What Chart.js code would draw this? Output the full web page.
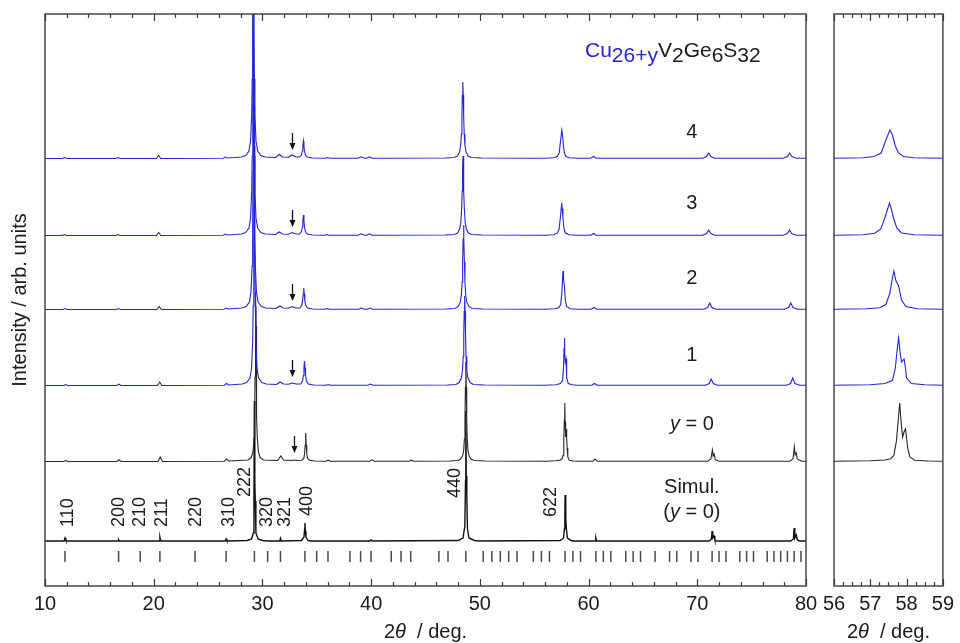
<!DOCTYPE html>
<html lang="en">
<head>
<meta charset="UTF-8">
<title>XRD patterns of Cu26+yV2Ge6S32</title>
<script src="https://cdn.jsdelivr.net/npm/chart.js"></script>
<style>
  body { margin: 0; background: #fff; }
  .wrap { position: relative; width: 960px; height: 643px; }
  .wrap canvas { position: absolute; left: 0; top: 0; }
</style>
</head>
<body>
<div class="wrap">
  <canvas id="mainChart" width="960" height="643"></canvas>
  <canvas id="zoomChart" width="960" height="643"></canvas>
</div>
<script>
// ---- patterns: [2theta (deg), intensity above the trace's own baseline] ----
const trace4 = [
  [10,0.5],[11.6,0.5],[11.8,1.5],[12.0,0.5],[16.5,0.5],[16.7,1.5],[16.9,0.5],[20.25,0.5],[20.45,3.5],[20.65,0.5],[26.4,0.8],[26.6,2],[26.8,1],
  [28.06,2],[28.46,3.5],[28.76,8],[28.91,18],[29.01,44],[29.06,80],[29.10,139],[29.13,204],[29.16,240],[29.19,204],[29.22,139],[29.26,80],[29.31,44],[29.41,18],[29.56,8],[29.86,3.5],[30.26,2],
  [31.2,1.5],[31.55,4.5],[31.85,2],[32.4,1.8],[32.72,4],[33.1,2],
  [33.42,2],[33.59,4],[33.67,8],[33.72,13],[33.77,18],[33.82,13],[33.87,8],[33.95,4],[34.12,2],[34.6,1],
  [35.8,0.8],[36.0,1.5],[36.2,0.8],[38.8,0.8],[39.07,2.2],[39.4,0.8],[39.6,0.8],[39.84,2.2],[40.1,0.8],
  [46.8,1],[47.63,1.5],[47.93,3],[48.13,7],[48.23,13.5],[48.30,25],[48.35,43],[48.39,64],[48.43,77],[48.47,64],[48.51,43],[48.56,25],[48.63,13.5],[48.73,7],[48.93,3],[49.23,1.5],[50.2,1],
  [56.0,0.8],[56.8,1.2],[57.1,2.5],[57.3,6],[57.43,19],[57.54,29],[57.61,24],[57.69,13],[57.78,6],[57.91,2.5],[58.2,1.2],[59.0,0.8],
  [60.2,0.8],[60.45,2.5],[60.7,0.8],
  [70.5,0.8],[70.85,2.5],[71.06,6],[71.25,2.5],[71.6,0.8],
  [77.9,0.8],[78.3,2.5],[78.5,6],[78.7,2.5],[79.1,0.8],[80,0.8]
];
const trace3 = [
  [10,0.5],[11.6,0.5],[11.8,1.5],[12.0,0.5],[16.5,0.5],[16.7,1.5],[16.9,0.5],[20.25,0.5],[20.45,3.5],[20.65,0.5],[26.4,0.8],[26.6,2],[26.8,1],
  [28.06,2],[28.46,3.5],[28.76,8],[28.91,18],[29.01,44],[29.06,80],[29.10,139],[29.13,204],[29.16,240],[29.19,204],[29.22,139],[29.26,80],[29.31,44],[29.41,18],[29.56,8],[29.86,3.5],[30.26,2],
  [31.2,1.5],[31.55,4],[31.85,2],[32.4,1.8],[32.72,3.5],[33.1,2],
  [33.42,2],[33.59,4.5],[33.67,9],[33.72,15],[33.77,21],[33.82,15],[33.87,9],[33.95,4.5],[34.12,2],[34.6,1],
  [35.75,0.8],[35.95,1.5],[36.15,0.8],[38.8,0.8],[39.07,2.2],[39.4,0.8],[39.6,0.8],[39.84,2.2],[40.1,0.8],
  [46.8,1],[47.65,1.5],[47.95,3],[48.15,7.2],[48.25,14],[48.32,26],[48.37,45],[48.41,67],[48.45,80],[48.49,67],[48.53,45],[48.58,26],[48.65,14],[48.75,7.2],[48.95,3],[49.25,1.5],[50.2,1],
  [56.0,0.8],[56.8,1.2],[57.12,2.8],[57.29,7],[57.4,18],[57.53,33],[57.58,27],[57.64,18],[57.73,8],[57.86,3],[58.2,1.2],[59.0,0.8],
  [60.2,0.8],[60.45,2.5],[60.7,0.8],
  [70.5,0.8],[70.85,2.5],[71.05,6],[71.25,2.5],[71.6,0.8],
  [77.9,0.8],[78.28,2.5],[78.48,6],[78.68,2.5],[79.1,0.8],[80,0.8]
];
const trace2 = [
  [10,0.5],[11.65,0.5],[11.85,1.5],[12.05,0.5],[16.55,0.5],[16.75,1.5],[16.95,0.5],[20.3,0.5],[20.5,3.5],[20.7,0.5],[26.45,0.8],[26.65,2],[26.85,1],
  [28.1,2],[28.5,3.5],[28.8,8],[28.95,18],[29.05,44],[29.1,80],[29.14,139],[29.17,204],[29.2,240],[29.23,204],[29.26,139],[29.3,80],[29.35,44],[29.45,18],[29.6,8],[29.9,3.5],[30.3,2],
  [31.25,1.5],[31.6,4],[31.9,2],[32.4,1.8],[32.72,3.5],[33.1,2],
  [33.45,2],[33.62,4.6],[33.7,9.3],[33.75,16],[33.8,22],[33.85,16],[33.9,9.3],[33.98,4.6],[34.15,2],[34.6,1],
  [35.8,0.8],[36.0,1.5],[36.2,0.8],[38.85,0.8],[39.1,2],[39.4,0.8],[39.65,0.8],[39.9,2],[40.15,0.8],
  [46.9,1],[47.7,1.5],[48.0,3.3],[48.2,7.8],[48.3,15],[48.37,28],[48.42,48],[48.46,71],[48.5,85],[48.54,71],[48.58,48],[48.63,28],[48.7,15],[48.8,7.8],[49.0,3.3],[49.3,1.5],[50.3,1],
  [56.0,0.8],[56.9,1.2],[57.26,2.2],[57.43,5.5],[57.54,17],[57.6,30],[57.65,39],[57.7,30],[57.78,24],[57.86,10],[57.98,3.5],[58.3,1.2],[59.0,0.8],
  [60.25,0.8],[60.5,2.5],[60.75,0.8],
  [70.6,0.8],[70.95,2.5],[71.15,7],[71.35,2.5],[71.7,0.8],
  [78.0,0.8],[78.4,2.5],[78.6,7],[78.8,2.5],[79.2,0.8],[80,0.8]
];
const trace1 = [
  [10,0.5],[11.7,0.5],[11.9,1.5],[12.1,0.5],[16.6,0.5],[16.8,1.8],[17.0,0.5],[20.35,0.5],[20.55,4],[20.75,0.5],[26.5,0.8],[26.7,2.5],[26.9,1],
  [28.15,2],[28.55,3.5],[28.85,8],[29.0,18],[29.1,44],[29.15,80],[29.19,139],[29.22,204],[29.25,240],[29.28,204],[29.31,139],[29.35,80],[29.4,44],[29.5,18],[29.65,8],[29.95,3.5],[30.35,2],
  [31.3,1.5],[31.62,4],[31.95,2],[32.4,1.8],[32.72,3],[33.1,2],
  [33.52,2],[33.69,5],[33.77,10.5],[33.82,18],[33.87,25],[33.92,18],[33.97,10.5],[34.05,5],[34.22,2],[34.7,1],
  [35.85,0.8],[36.05,1.5],[36.25,0.8],[39.65,0.8],[39.92,2],[40.2,0.8],
  [47.0,1],[47.8,1.5],[48.1,3.5],[48.3,8.2],[48.4,15.5],[48.47,29.5],[48.52,51],[48.56,75],[48.6,90],[48.64,75],[48.68,51],[48.73,29.5],[48.8,15.5],[48.9,8.2],[49.1,3.5],[49.4,1.5],[50.4,1],
  [56.0,0.8],[57.0,1.2],[57.4,2.5],[57.61,5.5],[57.69,18],[57.74,36],[57.78,48],[57.82,34],[57.86,24],[57.93,27],[57.97,18],[58.0,8],[58.13,2.5],[58.5,1.2],[59.0,0.8],
  [60.3,0.8],[60.55,2.5],[60.8,0.8],
  [70.75,0.8],[71.1,2.5],[71.28,7],[71.48,2.5],[71.85,0.8],
  [78.2,0.8],[78.58,2.5],[78.78,8],[78.98,2.5],[79.4,0.8],[80,0.8]
];
const traceY0 = [
  [10,0.5],[11.7,0.5],[11.9,1.5],[12.1,0.5],[16.6,0.5],[16.8,2.2],[17.0,0.5],[20.4,0.5],[20.6,5],[20.8,0.5],[26.5,0.8],[26.7,3],[26.9,1],
  [28.68,2],[28.98,4.5],[29.13,10],[29.23,24],[29.28,45],[29.32,85],[29.35,136],[29.38,170],[29.41,136],[29.44,85],[29.48,45],[29.53,24],[29.63,10],[29.78,4.5],[30.08,2],
  [31.4,1.5],[31.69,6],[31.95,2],[32.7,1.5],[32.9,2],[33.2,1.5],
  [33.63,1.8],[33.8,3.5],[33.88,8],[33.93,17],[33.98,29],[34.03,17],[34.08,8],[34.16,3.5],[34.33,1.8],[34.8,1],
  [35.85,0.8],[36.05,1.8],[36.25,0.8],[39.85,0.8],[40.08,2.2],[40.3,0.8],[43.5,0.8],[43.7,1.8],[43.9,0.8],
  [47.2,1],[48.01,1.5],[48.21,2.7],[48.41,6],[48.51,11.5],[48.58,23],[48.63,43],[48.67,75],[48.71,100],[48.75,75],[48.79,43],[48.84,23],[48.91,11.5],[49.01,6],[49.21,2.7],[49.51,1.5],[50.5,1],
  [56.0,0.8],[57.0,1.2],[57.4,2],[57.56,3.2],[57.65,6.5],[57.72,21],[57.77,42],[57.81,59],[57.85,40],[57.89,25],[57.93,30],[57.97,33],[58.0,24],[58.03,14],[58.09,5],[58.22,1.8],[58.6,1],[59.0,0.8],
  [60.4,0.8],[60.6,3],[60.8,0.8],
  [70.95,0.8],[71.25,3],[71.39,12],[71.46,6],[71.55,8],[71.65,2.5],[72.0,0.8],
  [78.5,0.8],[78.8,3],[78.93,15],[79.0,7],[79.1,9],[79.2,3],[79.6,0.8],[80,0.8]
];
const traceSim = [
  [10,0],[11.76,0],[11.84,3],[11.92,0.5],[12.0,0],[16.72,0],[16.77,1.5],[16.85,0],[20.5,0],[20.57,4],[20.62,1.5],[20.7,0],[26.6,0],[26.66,2],[26.74,0],
  [28.6,0.5],[29.0,2],[29.16,8],[29.22,40],[29.26,140],[29.3,60],[29.34,40],[29.4,8],[29.6,2],[30.0,0.5],[30.5,0],
  [31.6,0],[31.66,2.7],[31.74,0],[33.6,0.5],[33.82,4],[33.88,12],[33.91,18],[33.95,10],[34.0,4],[34.2,0.5],[34.5,0],
  [39.9,0],[39.99,1.2],[40.1,0],
  [48.0,0.5],[48.45,3],[48.62,15],[48.68,60],[48.71,130],[48.75,65],[48.8,45],[48.86,12],[49.0,3],[49.5,0.5],[50.0,0],
  [57.4,0.5],[57.7,3],[57.78,12],[57.82,32],[57.84,46],[57.88,20],[57.92,23],[57.96,12],[58.05,3],[58.4,0.5],[58.6,0],
  [60.6,0],[60.67,3.3],[60.75,0],
  [71.1,0],[71.3,2],[71.36,10],[71.42,3],[71.54,5],[71.62,1],[71.8,0],
  [78.6,0],[78.84,2],[78.91,13],[78.97,3],[79.1,6],[79.2,1],[79.4,0],[80,0]
];

const traces = [trace4, trace3, trace2, trace1, traceY0, traceSim];
const traceNames = ['4', '3', '2', '1', 'y = 0', 'Simul. (y = 0)'];
const offsets = [427, 350, 276, 200, 124, 45];

// calculated reflection positions (2theta, deg)
const reflections = [
  11.84, 16.77, 18.76, 20.57, 23.80, 26.66, 29.26, 30.48, 31.66, 33.91, 34.99, 36.03,
  38.05, 39.03, 39.99, 41.85, 42.75, 43.64, 46.23, 47.07, 48.71, 50.31, 51.10, 51.88,
  52.65, 53.42, 54.92, 55.66, 56.40, 57.84, 58.56, 59.26, 60.67, 61.36, 62.05, 63.42,
  64.10, 64.78, 66.12, 67.45, 68.11, 69.42, 70.07, 71.36, 72.00, 72.64, 73.91, 74.54,
  75.17, 76.43, 77.05, 77.67, 78.29, 78.91, 79.54
];

// Miller indices written above the simulated pattern
const hklText = ['110', '200', '210', '211', '220', '310', '222', '320', '321', '400', '440', '622'];
const hklAt   = [12.12, 16.81, 18.74, 20.74, 23.89, 26.93, 28.40, 30.40, 32.08, 34.08, 47.72, 56.52];
const hklBase = [59, 59, 59, 59, 59, 59, 89, 59, 59, 70, 88, 69];

// impurity arrows: trace index and position
const arrowTrace = [0, 1, 2, 3, 4];
const arrowAt = [32.72, 32.72, 32.72, 32.72, 32.93];

const BLUE = '#2323d8';
const INK = '#1a1a1a';
const FONT = '"Liberation Sans", Arial, Helvetica, sans-serif';
const traceColors = [BLUE, BLUE, BLUE, BLUE, '#262626', '#111'];
const traceWidths = [1.1, 1.1, 1.1, 1.1, 1.1, 1.4];

function traceDataset(i) {
  return {
    label: traceNames[i],
    data: traces[i].map(([x, y]) => ({ x, y: y + offsets[i] })),
    borderColor: traceColors[i],
    borderWidth: traceWidths[i],
    pointRadius: 0,
    tension: 0,
    fill: false
  };
}

const reflectionDataset = {
  label: 'reflections',
  data: reflections.flatMap(x => [{ x, y: 24 }, { x, y: 35 }, { x, y: null }]),
  borderColor: '#4a4a4a',
  borderWidth: 1.5,
  pointRadius: 0,
  spanGaps: false
};

// box around the plot with inward ticks on top and bottom
const framePlugin = {
  id: 'frame',
  afterDatasetsDraw(chart, args, opts) {
    const { ctx, chartArea: a } = chart;
    const x = chart.scales.x;
    ctx.save();
    ctx.strokeStyle = '#3c3c3c';
    ctx.lineWidth = 1.4;
    ctx.strokeRect(a.left, a.top, a.right - a.left, a.bottom - a.top);
    ctx.lineWidth = 1.2;
    const n = Math.round((x.max - x.min) / opts.minor);
    for (let k = 0; k <= n; k++) {
      const v = x.min + k * opts.minor;
      const r = v / opts.major;
      const len = Math.abs(r - Math.round(r)) < 1e-6 ? 7 : 4;
      const px = Math.round(x.getPixelForValue(v)) + 0.5;
      ctx.beginPath();
      ctx.moveTo(px, a.bottom); ctx.lineTo(px, a.bottom - len);
      ctx.moveTo(px, a.top); ctx.lineTo(px, a.top + len);
      ctx.stroke();
    }
    // axis title: 2θ / deg.
    drawRuns(ctx, [{ t: '2' }, { t: 'θ', italic: true }, { t: '  / deg.' }],
      (a.left + a.right) / 2, 638, 'center', 20);
    ctx.restore();
  }
};

function drawRuns(ctx, runs, x, y, align, size) {
  const fontOf = r => `${r.italic ? 'italic ' : ''}${size}px ${FONT}`;
  let w = 0;
  runs.forEach(r => { ctx.font = fontOf(r); r.w = ctx.measureText(r.t).width; w += r.w; });
  let cx = align === 'center' ? x - w / 2 : x;
  ctx.textAlign = 'left';
  ctx.textBaseline = 'alphabetic';
  runs.forEach(r => {
    ctx.font = fontOf(r);
    ctx.fillStyle = r.color || INK;
    ctx.fillText(r.t, cx, y + (r.dy || 0));
    cx += r.w;
  });
}

// sample labels, hkl indices, arrows, formula and y title
const labelPlugin = {
  id: 'labels',
  afterDraw(chart) {
    const { ctx, chartArea: a } = chart;
    const { x, y } = chart.scales;
    ctx.save();

    // hkl indices, rotated
    ctx.fillStyle = INK;
    ctx.font = `18px ${FONT}`;
    hklText.forEach((t, i) => {
      ctx.save();
      ctx.translate(x.getPixelForValue(hklAt[i]), y.getPixelForValue(hklBase[i]));
      ctx.rotate(-Math.PI / 2);
      ctx.textAlign = 'left';
      ctx.textBaseline = 'middle';
      ctx.fillText(t, 0, 0);
      ctx.restore();
    });

    // arrows pointing at the impurity reflection
    ctx.strokeStyle = '#111';
    ctx.fillStyle = '#111';
    ctx.lineWidth = 1.3;
    arrowAt.forEach((pos, i) => {
      const px = Math.round(x.getPixelForValue(pos)) + 0.5;
      const base = offsets[arrowTrace[i]];
      const tip = y.getPixelForValue(base + 9);
      const top = y.getPixelForValue(base + 26);
      ctx.beginPath();
      ctx.moveTo(px, top); ctx.lineTo(px, tip - 5);
      ctx.stroke();
      ctx.beginPath();
      ctx.moveTo(px - 3, tip - 7); ctx.lineTo(px + 3, tip - 7); ctx.lineTo(px, tip);
      ctx.closePath();
      ctx.fill();
    });

    // sample labels
    const lx = x.getPixelForValue(69.5);
    drawRuns(ctx, [{ t: '4' }], lx, y.getPixelForValue(448), 'center', 20);
    drawRuns(ctx, [{ t: '3' }], lx, y.getPixelForValue(377), 'center', 20);
    drawRuns(ctx, [{ t: '2' }], lx, y.getPixelForValue(302), 'center', 20);
    drawRuns(ctx, [{ t: '1' }], lx, y.getPixelForValue(225), 'center', 20);
    drawRuns(ctx, [{ t: 'y', italic: true }, { t: ' = 0' }], lx, y.getPixelForValue(156), 'center', 20);
    drawRuns(ctx, [{ t: 'Simul.' }], lx, y.getPixelForValue(93), 'center', 20);
    drawRuns(ctx, [{ t: '(' }, { t: 'y', italic: true }, { t: ' = 0)' }], lx, y.getPixelForValue(68), 'center', 20);

    // formula
    drawRuns(ctx, [
      { t: 'Cu', color: BLUE }, { t: '26+y', color: BLUE, dy: 5 },
      { t: 'V' }, { t: '2', dy: 5 }, { t: 'Ge' }, { t: '6', dy: 5 }, { t: 'S' }, { t: '32', dy: 5 }
    ], a.left + 540, a.top + 43, 'left', 21);

    // y axis title
    ctx.translate(20, (a.top + a.bottom) / 2);
    ctx.rotate(-Math.PI / 2);
    ctx.font = `20px ${FONT}`;
    ctx.fillStyle = INK;
    ctx.textAlign = 'center';
    ctx.textBaseline = 'middle';
    ctx.fillText('Intensity / arb. units', 0, 0);
    ctx.restore();
  }
};

function xScale(min, max, step) {
  return {
    type: 'linear', min, max,
    afterFit: s => { s.height = 57; },
    grid: { display: false, drawTicks: false },
    border: { display: false },
    ticks: { stepSize: step, autoSkip: false, maxRotation: 0, padding: 6, color: INK, font: { size: 20, family: FONT } }
  };
}

new Chart(document.getElementById('mainChart'), {
  type: 'line',
  data: { datasets: [0, 1, 2, 3, 4, 5].map(traceDataset).concat([reflectionDataset]) },
  options: {
    responsive: false,
    animation: false,
    layout: { padding: { left: 45, right: 154, top: 14, bottom: 0 } },
    plugins: { legend: { display: false }, tooltip: { enabled: false }, frame: { major: 10, minor: 2 } },
    scales: { x: xScale(10, 80, 10), y: { display: false, min: 0, max: 572 } }
  },
  plugins: [framePlugin, labelPlugin]
});

// enlarged 622 region
new Chart(document.getElementById('zoomChart'), {
  type: 'line',
  data: { datasets: [0, 1, 2, 3, 4].map(traceDataset) },
  options: {
    responsive: false,
    animation: false,
    layout: { padding: { left: 834, right: 12, top: 14, bottom: 0 } },
    plugins: { legend: { display: false }, tooltip: { enabled: false }, frame: { major: 1, minor: 0.25 } },
    scales: { x: xScale(56, 59, 1), y: { display: false, min: 0, max: 572 } }
  },
  plugins: [framePlugin]
});
</script>
</body>
</html>
